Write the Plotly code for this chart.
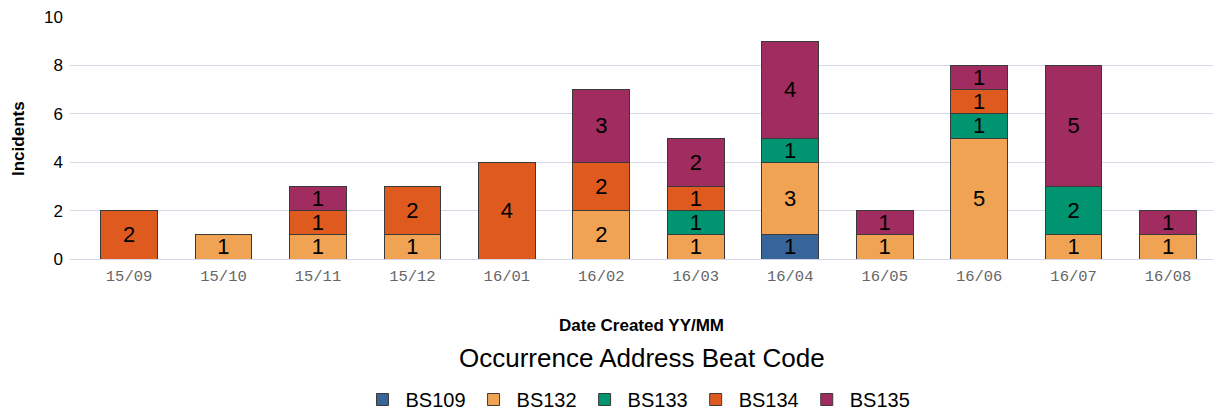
import plotly.graph_objects as go

months = ["15/09", "15/10", "15/11", "15/12", "16/01", "16/02",
          "16/03", "16/04", "16/05", "16/06", "16/07", "16/08"]
bs109 = [0, 0, 0, 0, 0, 0, 0, 1, 0, 0, 0, 0]
bs132 = [0, 1, 1, 1, 0, 2, 1, 3, 1, 5, 1, 1]
bs133 = [0, 0, 0, 0, 0, 0, 1, 1, 0, 1, 2, 0]
bs134 = [2, 0, 1, 2, 4, 2, 1, 0, 0, 1, 0, 0]
bs135 = [0, 0, 1, 0, 0, 3, 2, 4, 1, 1, 5, 1]

series = [
    ("BS109", bs109, "#386599"),
    ("BS132", bs132, "#f0a352"),
    ("BS133", bs133, "#009470"),
    ("BS134", bs134, "#df5a1f"),
    ("BS135", bs135, "#a12c5f"),
]

fig = go.Figure()
for name, vals, color in series:
    fig.add_trace(go.Bar(
        name=name,
        x=months,
        y=[v if v else None for v in vals],
        marker=dict(color=color, line=dict(color="#3a3a3a", width=1)),
        text=[str(v) if v else "" for v in vals],
        textposition="inside",
        insidetextanchor="middle",
        constraintext="none",
        textfont=dict(family="Liberation Sans, Arial, sans-serif", size=22, color="#000000"),
        textangle=0,
    ))

fig.update_layout(
    barmode="stack",
    bargap=0.4,
    width=1213, height=411,
    margin=dict(l=70, r=0, t=17, b=152, autoexpand=False),
    plot_bgcolor="white",
    paper_bgcolor="white",
    font=dict(family="Liberation Sans, Arial, sans-serif", color="#000000"),
    showlegend=True,
    legend=dict(
        orientation="h",
        x=0.4965, xanchor="center",
        y=-0.5, yanchor="top",
        font=dict(size=20, color="#000000"),
        itemwidth=36,
        traceorder="normal",
    ),
    annotations=[
        dict(
            text="Occurrence Address Beat Code",
            xref="paper", yref="paper",
            x=0.5, y=-0.409, xanchor="center", yanchor="middle",
            showarrow=False,
            font=dict(size=26, color="#000000"),
        ),
        dict(
            text="<b>Date Created YY/MM</b>",
            xref="paper", yref="paper",
            x=0.5, y=-0.273, xanchor="center", yanchor="middle",
            showarrow=False,
            font=dict(size=17, color="#000000"),
        ),
        dict(
            text="<b>Incidents</b>",
            xref="paper", yref="paper",
            x=-0.0455, y=0.5, xanchor="center", yanchor="middle",
            textangle=-90,
            showarrow=False,
            font=dict(size=17, color="#000000"),
        ),
    ],
)

fig.update_xaxes(
    type="category",
    range=[-0.625, 11.476],
    automargin=False,
    showgrid=False,
    showline=False,
    ticks="",
    ticklabelstandoff=5,
    tickfont=dict(family="Liberation Mono, Courier New, monospace", size=15.5, color="#666666"),
)
fig.update_yaxes(
    range=[0, 10],
    dtick=2,
    automargin=False,
    showgrid=True,
    gridcolor="#d6d6e6",
    gridwidth=1,
    zeroline=True,
    zerolinecolor="#d6d6e6",
    zerolinewidth=1,
    ticks="",
    ticklabelstandoff=6,
    tickfont=dict(size=17, color="#000000"),
)

fig.write_html(
    "out.html",
    config={"displayModeBar": False},
    post_script="document.body.style.margin='0';document.body.style.overflow='hidden';",
)
